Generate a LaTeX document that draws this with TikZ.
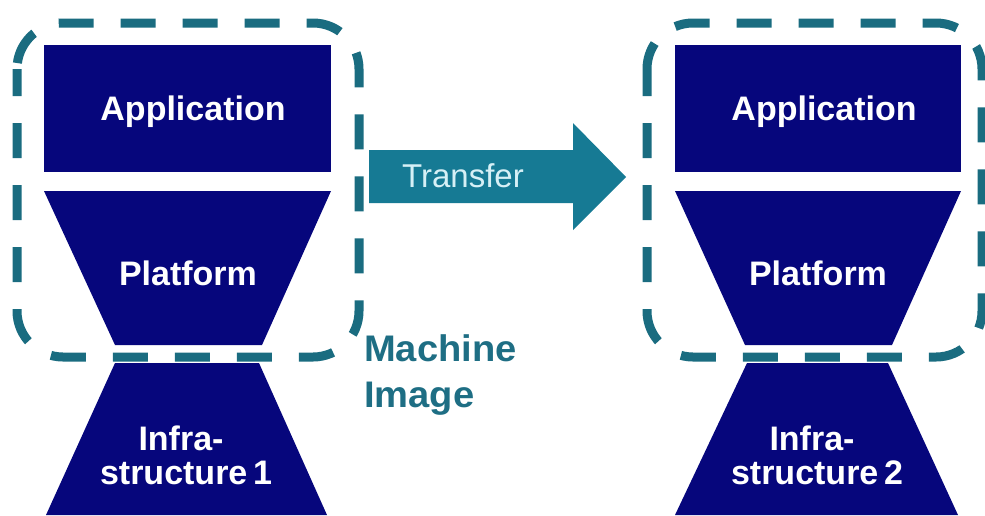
\documentclass[tikz,border=0pt]{standalone}
\usepackage{fontspec}
\setmainfont{Liberation Sans}
\definecolor{navyblk}{RGB}{6,6,124}
\definecolor{dashteal}{RGB}{26,108,128}
\definecolor{arrowteal}{RGB}{22,122,148}
\definecolor{transtxt}{RGB}{214,240,246}
\definecolor{mitxt}{RGB}{30,110,132}
\tikzset{
  layerbox/.style={fill=navyblk},
  dashbox/.style={draw=dashteal, line width=9pt, rounded corners=46pt, dash pattern=on 35pt off 27pt},
  layertxt/.style={text=white, font=\fontsize{34}{36}\selectfont\bfseries, anchor=base, inner sep=0pt},
  transfertxt/.style={text=transtxt, font=\fontsize{33}{36}\selectfont, anchor=base, inner sep=0pt},
  mitext/.style={text=mitxt, font=\fontsize{37}{40}\selectfont\bfseries, anchor=base west, inner sep=0pt, xscale=1.03}
}
\begin{document}
\begin{tikzpicture}[x=1pt,y=-1pt]
\useasboundingbox (0,0) rectangle (985,515);
\fill[white] (0,0) rectangle (985,515);
% left stack
\fill[layerbox] (44,45) rectangle (331,172);
\fill[layerbox] (44,191) -- (331,191) -- (262,345) -- (115,345) -- cycle;
\fill[layerbox] (115,363) -- (259,363) -- (327,515) -- (46,515) -- cycle;
% right stack
\fill[layerbox] (675,45) rectangle (961,172);
\fill[layerbox] (675,191) -- (961,191) -- (892,345) -- (745,345) -- cycle;
\fill[layerbox] (747,363) -- (888,363) -- (958,515) -- (675,515) -- cycle;
% dashed machine image boxes
\draw[dashbox, dash phase=8pt] (17,23) rectangle (359,357);
\draw[dashbox, dash phase=8pt] (647,23) rectangle (982,357);
% transfer arrow
\fill[arrowteal] (369,150) -- (573,150) -- (573,123) -- (626,177) -- (573,230) -- (573,203) -- (369,203) -- cycle;
% texts
\node[layertxt] (app1) at (193,120) {Application};
\node[layertxt] (plat1) at (188,285) {Platform};
\node[layertxt] (infa1) at (181,450) {Infra-};
\node[layertxt] (infb1) at (186,484) {structure\,1};
\node[layertxt] (app2) at (824,120) {Application};
\node[layertxt] (plat2) at (818,285) {Platform};
\node[layertxt] (infa2) at (812,450) {Infra-};
\node[layertxt] (infb2) at (817,484) {structure\,2};
\node[transfertxt] (transfer) at (463,187) {Transfer};
\node[mitext] (mi1) at (364,361) {Machine};
\node[mitext] (mi2) at (364,407) {Image};
\end{tikzpicture}
\end{document}
